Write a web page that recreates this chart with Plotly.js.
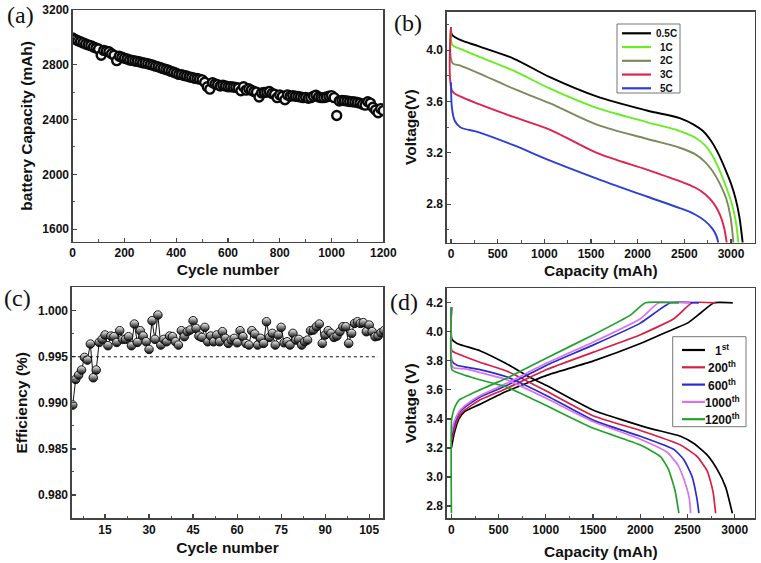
<!DOCTYPE html>
<html>
<head>
<meta charset="utf-8">
<script src="https://cdn.plot.ly/plotly-3.0.1.min.js"></script>
<style>html,body{margin:0;padding:0;background:#fff;}#chart{width:761px;height:563px;}</style>
</head>
<body>
<div id="chart"></div>
<script>
// ---------- DATA ----------
// (a) capacity vs cycle
const cycA = [0,10,20,30,40,50,60,70,80,90,100,110,120,130,140,150,160,170,180,190,200,210,220,230,240,250,260,270,280,290,300,310,320,330,340,350,360,370,380,390,400,410,420,430,440,450,460,470,480,490,500,510,520,530,540,550,560,570,580,590,600,610,620,630,640,650,660,670,680,690,700,710,720,730,740,750,760,770,780,790,800,810,820,830,840,850,860,870,880,890,900,910,920,930,940,950,960,970,980,990,1000,1010,1020,1030,1040,1050,1060,1070,1080,1090,1100,1110,1120,1130,1140,1150,1160,1170,1180,1190,1200];
const capA = [2995,2985,2975,2968,2960,2952,2945,2940,2930,2922,2915,2870,2905,2900,2895,2880,2870,2830,2862,2855,2848,2842,2835,2832,2828,2825,2820,2815,2812,2808,2802,2796,2790,2785,2778,2772,2765,2760,2752,2745,2738,2730,2728,2722,2718,2712,2708,2702,2700,2695,2690,2672,2640,2622,2670,2660,2655,2645,2650,2645,2640,2640,2638,2635,2630,2610,2640,2615,2625,2615,2605,2600,2565,2595,2598,2600,2605,2590,2585,2560,2580,2570,2545,2580,2570,2575,2570,2568,2565,2560,2562,2555,2560,2570,2578,2565,2560,2560,2565,2570,2575,2560,2430,2535,2540,2538,2535,2532,2530,2528,2525,2520,2512,2505,2530,2520,2490,2470,2450,2480,2465];

// (b) discharge at different C-rates
const rateNames = ['0.5C','1C','2C','3C','5C'];
const rateColors = ['#000000','#66ee22','#7d8a5c','#e0224e','#2c3fd6'];
const capB05 = [0,10,100,300,670,1060,1560,2100,2450,2600,2700,2780,2860,2940,3000,3050,3090,3125];
const vB05   = [4.18,4.12,4.08,4.03,3.935,3.79,3.64,3.53,3.47,3.42,3.37,3.30,3.20,3.07,2.96,2.84,2.70,2.50];
const capB1  = [0,15,100,300,670,1063,1562,2097,2450,2615,2720,2800,2880,2950,3010,3050,3079];
const vB1    = [4.18,4.04,4.01,3.95,3.84,3.70,3.55,3.44,3.37,3.32,3.26,3.18,3.06,2.93,2.80,2.67,2.50];
const capB2  = [0,15,100,300,670,1063,1562,2097,2450,2615,2720,2800,2880,2950,2995,3025];
const vB2    = [4.18,3.90,3.88,3.82,3.70,3.585,3.42,3.31,3.24,3.19,3.13,3.06,2.96,2.84,2.70,2.50];
const capB3  = [0,15,100,300,670,1063,1562,2097,2450,2615,2720,2811,2880,2925,2954];
const vB3    = [4.18,3.68,3.64,3.58,3.48,3.38,3.20,3.07,2.98,2.93,2.88,2.81,2.72,2.62,2.50];
const capB5  = [0,10,40,100,300,670,1063,1562,2097,2450,2615,2720,2800,2840,2864];
const vB5    = [3.75,3.55,3.45,3.40,3.36,3.26,3.14,3.00,2.86,2.77,2.72,2.67,2.61,2.56,2.50];

// (c) coulombic efficiency, cycles 4..110
const effC = [0.98976,0.99254,0.99301,0.99356,0.99493,0.99464,0.99638,0.99272,0.99356,0.99656,
0.99689,0.99736,0.99620,0.99725,0.99718,0.99656,0.99783,0.99689,0.99689,0.99718,
0.99620,0.99855,0.99656,0.99783,0.99725,0.99663,0.99580,0.99891,0.99689,0.99953,
0.99627,0.99689,0.99663,0.99725,0.99718,0.99663,0.99627,0.99783,0.99718,0.99772,
0.99790,0.99891,0.99808,0.99725,0.99710,0.99819,0.99663,0.99725,0.99663,0.99736,
0.99663,0.99772,0.99700,0.99645,0.99681,0.99700,0.99652,0.99783,0.99718,0.99645,
0.99627,0.99783,0.99747,0.99627,0.99700,0.99645,0.99880,0.99710,0.99754,0.99627,
0.99736,0.99819,0.99652,0.99663,0.99627,0.99754,0.99681,0.99689,0.99627,0.99663,
0.99681,0.99783,0.99790,0.99826,0.99855,0.99645,0.99736,0.99783,0.99754,0.99710,
0.99725,0.99772,0.99826,0.99826,0.99645,0.99754,0.99862,0.99880,0.99862,0.99870,
0.99772,0.99844,0.99772,0.99718,0.99725,0.99761,0.99783];
const firstCycleC = 4;
const effRef = 0.995;

// (d) charge/discharge at different cycles
const cycNames = ['1<sup>st</sup>','200<sup>th</sup>','600<sup>th</sup>','1000<sup>th</sup>','1200<sup>th</sup>'];
const cycColors = ['#000000','#d81e42','#2a2ad0','#d774e8','#22a22a'];
const disCap = [
 [0,5,60,301,584,850,1009,1505,2072,2426,2568,2710,2816,2904,2975],
 [0,5,60,301,584,1009,1505,2001,2426,2603,2710,2770,2798],
 [0,5,60,301,584,1009,1505,2001,2355,2460,2550,2600,2621],
 [0,5,30,150,301,584,1009,1505,2001,2285,2400,2480,2520,2533],
 [0,5,60,301,584,1009,1505,2001,2214,2300,2370,2409]];
const disV = [
 [4.17,3.95,3.92,3.87,3.78,3.68,3.63,3.46,3.34,3.28,3.23,3.15,3.05,2.93,2.75],
 [4.17,3.87,3.85,3.79,3.73,3.59,3.42,3.32,3.22,3.14,3.04,2.90,2.75],
 [4.17,3.80,3.77,3.74,3.69,3.56,3.39,3.28,3.19,3.12,3.00,2.85,2.75],
 [4.17,3.77,3.75,3.745,3.72,3.67,3.54,3.38,3.26,3.17,3.08,2.95,2.85,2.75],
 [4.17,3.74,3.72,3.67,3.62,3.49,3.335,3.22,3.14,3.05,2.90,2.75]];
const chgCap = [
 [0,30,80,140,300,584,850,1009,1505,2001,2355,2500,2639,2780,2980],
 [0,30,80,140,300,584,1009,1505,2001,2355,2550,2800],
 [0,30,80,140,300,584,1009,1505,2001,2320,2620],
 [0,30,80,140,300,584,1009,1505,2001,2196,2530],
 [0,3,35,80,300,584,1009,1505,1895,2054,2409]];
const chgV = [
 [3.20,3.30,3.40,3.45,3.50,3.59,3.66,3.70,3.80,3.92,4.02,4.06,4.13,4.20,4.20],
 [3.25,3.33,3.42,3.46,3.53,3.61,3.74,3.86,3.98,4.09,4.20,4.20],
 [3.28,3.36,3.44,3.48,3.55,3.63,3.77,3.91,4.06,4.20,4.20],
 [3.30,3.38,3.45,3.49,3.56,3.645,3.785,3.93,4.09,4.20,4.20],
 [2.75,3.40,3.48,3.53,3.60,3.68,3.82,3.98,4.115,4.20,4.20]];

// ---------- LAYOUT HELPERS ----------
const W = 761, H = 563;
const fx = p => p / W;
const fy = p => 1 - p / H;
const FAM = 'Liberation Sans, Arial, sans-serif';
const tickFont = () => ({family:FAM, size:12, color:'#111', weight:700});
const TITLEFONT = {family:FAM, size:15.5, color:'#111', weight:700};

function axis(o) {
  const base = {
    showline:true, linecolor:'#444', linewidth:1.3, mirror:true,
    ticks:'inside', ticklen:4, tickwidth:1.2, tickcolor:'#444',
    showgrid:false, zeroline:false, tickfont:tickFont(), automargin:true,
    tickprefix:'<b>', ticksuffix:'</b>',
    minor:{ticks:'inside', ticklen:2.5, tickwidth:1, tickcolor:'#555', showgrid:false}
  };
  const a = Object.assign(base, o);
  if (o.minordtick) { a.minor.dtick = o.minordtick; delete a.minordtick; }
  return a;
}

const traces = [];
// (a)
traces.push({x:cycA, y:capA, xaxis:'x', yaxis:'y', mode:'markers', showlegend:false,
  marker:{symbol:'circle', size:9, color:'#f4f4f4', line:{color:'#0a0a0a', width:2.4}}});
// (b)
const bCaps = [capB05, capB1, capB2, capB3, capB5];
const bVs = [vB05, vB1, vB2, vB3, vB5];
bCaps.forEach((c,i) => traces.push({x:c, y:bVs[i], xaxis:'x2', yaxis:'y2', mode:'lines', name:rateNames[i],
  showlegend:false, line:{color:rateColors[i], width:1.9, shape:'spline', smoothing:0.9}}));
// (c)
const cycC = effC.map((_,i) => firstCycleC + i);
traces.push({x:cycC, y:effC, xaxis:'x3', yaxis:'y3', mode:'lines+markers', showlegend:false,
  line:{color:'#111', width:1},
  marker:{symbol:'circle', size:8.5, color:'#ffffff', line:{color:'#111', width:1},
          gradient:{type:'vertical', color:'#000000'}}});
// (d)
for (let i = 0; i < 5; i++) {
  traces.push({x:chgCap[i], y:chgV[i], xaxis:'x4', yaxis:'y4', mode:'lines', name:cycNames[i], showlegend:false,
    line:{color:cycColors[i], width:1.7, shape:'spline', smoothing:0.45}});
  traces.push({x:disCap[i], y:disV[i], xaxis:'x4', yaxis:'y4', mode:'lines', name:cycNames[i], showlegend:false,
    line:{color:cycColors[i], width:1.7, shape:'spline', smoothing:0.5}});
}

// compact legends, as in the figure
const shapes = [];
const annotations = [];
function legendBox(x0, y0, x1, y1, names, colors, lx0, lx1, tx, ty0, dy, fsize) {
  shapes.push({type:'rect', xref:'paper', yref:'paper', x0:fx(x0), x1:fx(x1), y0:fy(y0), y1:fy(y1),
    line:{color:'#777', width:1}, fillcolor:'#ffffff', layer:'above'});
  names.forEach((n,i) => {
    const yy = ty0 + dy * i;
    shapes.push({type:'line', xref:'paper', yref:'paper', x0:fx(lx0), x1:fx(lx1), y0:fy(yy), y1:fy(yy),
      line:{color:colors[i], width:2.2}, layer:'above'});
    annotations.push({xref:'paper', yref:'paper', x:fx(tx), y:fy(yy), text:'<b>' + n + '</b>', showarrow:false,
      xanchor:'center', yanchor:'middle', font:{family:FAM, size:fsize, color:'#111', weight:700}});
  });
}
legendBox(617, 24, 680, 93, rateNames, rateColors, 622, 651, 666, 33.3, 13.75, 10);
legendBox(672.7, 336.7, 746, 426.7, cycNames, cycColors, 682, 705, 722, 350, 17.3, 12);

// reference line in (c)
shapes.push({type:'line', xref:'x3', yref:'y3', x0:3.7, x1:108, y0:effRef, y1:effRef,
  line:{color:'#111', width:1, dash:'dot'}});

// panel letters
[['(a)',20,14.5],['(b)',408,23],['(c)',17,298],['(d)',404,302]].forEach(p => {
  annotations.push({xref:'paper', yref:'paper', x:fx(p[1]), y:fy(p[2]), text:p[0], showarrow:false,
    xanchor:'center', yanchor:'middle', font:{family:'Liberation Serif, Times New Roman, serif', size:24, color:'#111'}});
});

const layout = {
  width:W, height:H, margin:{l:0, r:0, t:0, b:0, autoexpand:false},
  paper_bgcolor:'#fff', plot_bgcolor:'#fff', showlegend:false,
  xaxis: axis({domain:[fx(72.7), fx(383.3)], anchor:'y', range:[0,1200], dtick:200, tick0:0, minordtick:100,
    title:{text:'Cycle number', font:TITLEFONT, standoff:4}}),
  yaxis: axis({domain:[fy(241.7), fy(10)], anchor:'x', range:[1508,3200], dtick:400, tick0:0, minordtick:200,
    title:{text:'battery Capacity (mAh)', font:TITLEFONT, standoff:6}}),
  xaxis2: axis({domain:[fx(446.7), fx(755)], anchor:'y2', range:[-46,3257], dtick:500, tick0:0, minordtick:250,
    title:{text:'Capacity (mAh)', font:TITLEFONT, standoff:4}}),
  yaxis2: axis({domain:[fy(242.7), fy(11.7)], anchor:'x2', range:[2.5,4.3], dtick:0.4, tick0:2.8, minordtick:0.2, tickformat:'.1f',
    title:{text:'Voltage(V)', font:TITLEFONT, standoff:6}}),
  xaxis3: axis({domain:[fx(71.7), fx(383.3)], anchor:'y3', range:[3.65,109.8], dtick:15, tick0:0, minordtick:7.5,
    title:{text:'Cycle number', font:TITLEFONT, standoff:6}}),
  yaxis3: axis({domain:[fy(518.3), fy(287.3)], anchor:'x3', range:[0.97747,1.00254], dtick:0.005, tick0:0.98, minordtick:0.0025, tickformat:'.3f',
    title:{text:'Efficiency (%)', font:TITLEFONT, standoff:6}}),
  xaxis4: axis({domain:[fx(446.7), fx(755)], anchor:'y4', range:[-50,3215], dtick:500, tick0:0, minordtick:250,
    title:{text:'Capacity (mAh)', font:TITLEFONT, standoff:10}}),
  yaxis4: axis({domain:[fy(518.3), fy(288.3)], anchor:'x4', range:[2.715,4.3], dtick:0.2, tick0:2.8, tickformat:'.1f',
    title:{text:'Voltage (V)', font:TITLEFONT, standoff:6}}),
  shapes:shapes, annotations:annotations
};
layout.yaxis4.minor = {ticks:''};

Plotly.newPlot('chart', traces, layout, {displayModeBar:false, staticPlot:true});
</script>
</body>
</html>
